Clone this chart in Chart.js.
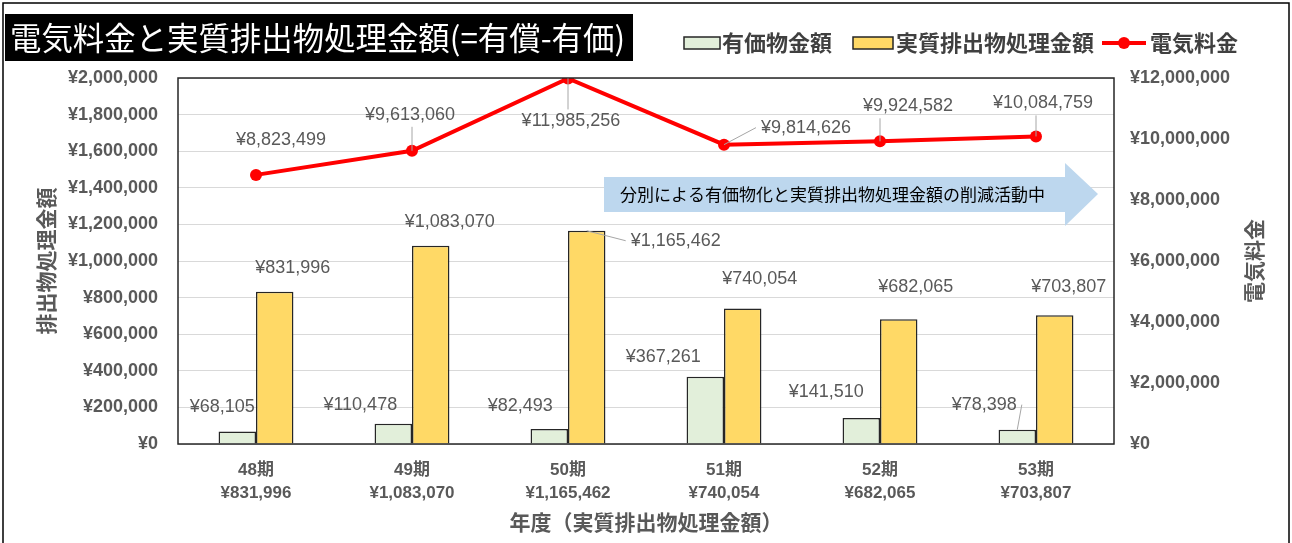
<!DOCTYPE html>
<html>
<head>
<meta charset="utf-8">
<script src="https://cdn.jsdelivr.net/npm/chart.js@4"></script>
<style>
  html, body { margin: 0; padding: 0; background: #fff; }
  #wrap { width: 1292px; height: 543px; }
</style>
</head>
<body>
<div id="wrap"><canvas id="chartCanvas" width="1292" height="543"></canvas></div>
<script>
// データ
const periods = ["48期", "49期", "50期", "51期", "52期", "53期"];
const valuables = [68105, 110478, 82493, 367261, 141510, 78398];          // 有価物金額
const disposal = [831996, 1083070, 1165462, 740054, 682065, 703807];     // 実質排出物処理金額
const electricity = [8823499, 9613060, 11985256, 9814626, 9924582, 10084759]; // 電気料金
const leftTicks = [0, 2000000, 200000];    // min, max, step
const rightTicks = [0, 12000000, 2000000];

const fmt = v => "¥" + v.toLocaleString("en-US");
const gray = "#595959";
const latin = "'Liberation Sans', 'Noto Sans CJK JP'";
const cjk = "'Noto Sans CJK JP', 'Liberation Sans'";

// ラベル位置 (要素からのずれ) と引き出し線
const labelPos = {
    0: [[-15, -25], [-33, -19], [-29, -23], [-42, -20], [-35, -26], [-33, -25, 1]],
    1: [[18, -24], [19, -24], [89, 10, 1], [17, -30], [17, -32], [14, -28]],
    2: [[25, -35], [-2, -36, 1], [3, 43, 1], [82, -17, 1], [28, -35, 1], [7, -33, 1]],
};

function drawLabel(ctx, text, x, y, lx, ly, leader) {
    ctx.font = "18px " + latin;
    const w = ctx.measureText(text).width;
    if (leader) {
        // 引き出し線: ラベルの一番近い縁から要素へ
        let ex = Math.max(lx - w / 2, Math.min(x, lx + w / 2));
        let ey = y < ly ? ly - 12 : ly + 12;
        if (Math.abs(x - lx) > w / 2) { ey = ly; ex = x < lx ? lx - w / 2 - 5 : lx + w / 2 + 5; }
        ctx.strokeStyle = "#a6a6a6";
        ctx.lineWidth = 1;
        ctx.beginPath();
        ctx.moveTo(ex, ey);
        ctx.lineTo(x, y);
        ctx.stroke();
    }
    ctx.fillStyle = gray;
    ctx.textAlign = "center";
    ctx.textBaseline = "middle";
    ctx.fillText(text, lx, ly);
}

function fitText(ctx, text, x, y, width) {
    const w = ctx.measureText(text).width;
    ctx.save();
    ctx.translate(x, y);
    ctx.scale(width / w, 1);
    ctx.fillText(text, 0, 0);
    ctx.restore();
}

const decor = {
    id: "decor",
    beforeDraw(chart) {
        const ctx = chart.ctx;
        const ca = chart.chartArea;
        ctx.save();
        ctx.fillStyle = "#fff";
        ctx.fillRect(0, 0, chart.width, chart.height);
        ctx.strokeStyle = "#000";
        ctx.lineWidth = 1.5;
        ctx.strokeRect(3, 3, chart.width - 6, chart.height + 20);

        // タイトル
        ctx.fillStyle = "#000";
        ctx.fillRect(5, 14, 628, 47);
        ctx.fillStyle = "#fff";
        ctx.font = "32px " + cjk;
        ctx.textAlign = "left";
        ctx.textBaseline = "middle";
        fitText(ctx, "電気料金と実質排出物処理金額(=有償-有価)", 10, 38, 615);

        // 凡例
        ctx.font = "bold 22px " + cjk;
        ctx.textBaseline = "middle";
        ctx.lineWidth = 1.5;
        ctx.strokeStyle = "#262626";
        ctx.fillStyle = "#E2EFDA";
        ctx.fillRect(684, 37, 36, 12);
        ctx.strokeRect(684, 37, 36, 12);
        ctx.fillStyle = "#404040";
        ctx.fillText("有価物金額", 722, 43);
        ctx.fillStyle = "#FFD966";
        ctx.fillRect(853, 37, 40, 12);
        ctx.strokeRect(853, 37, 40, 12);
        ctx.fillStyle = "#404040";
        ctx.fillText("実質排出物処理金額", 896, 43);
        ctx.strokeStyle = "#FF0000";
        ctx.lineWidth = 4;
        ctx.beginPath();
        ctx.moveTo(1102, 43);
        ctx.lineTo(1146, 43);
        ctx.stroke();
        ctx.fillStyle = "#FF0000";
        ctx.beginPath();
        ctx.arc(1124, 43, 6, 0, Math.PI * 2);
        ctx.fill();
        ctx.fillStyle = "#404040";
        ctx.fillText("電気料金", 1150, 43);

        // 軸タイトル
        const cy = (ca.top + ca.bottom) / 2;
        ctx.font = "bold 21px " + cjk;
        ctx.fillStyle = gray;
        ctx.textAlign = "center";
        ctx.save();
        ctx.translate(46, cy);
        ctx.rotate(-Math.PI / 2);
        ctx.fillText("排出物処理金額", 0, 0);
        ctx.restore();
        ctx.save();
        ctx.translate(1254, cy);
        ctx.rotate(-Math.PI / 2);
        ctx.fillText("電気料金", 0, 0);
        ctx.restore();
        ctx.fillText("年度（実質排出物処理金額）", (ca.left + ca.right) / 2, 522);
        ctx.restore();
    },
    beforeDatasetsDraw(chart) {
        // 矢印
        const ctx = chart.ctx;
        ctx.save();
        ctx.fillStyle = "#BDD7EE";
        ctx.beginPath();
        ctx.moveTo(604, 177);
        ctx.lineTo(1065, 177);
        ctx.lineTo(1065, 163);
        ctx.lineTo(1098, 194);
        ctx.lineTo(1065, 226);
        ctx.lineTo(1065, 212);
        ctx.lineTo(604, 212);
        ctx.closePath();
        ctx.fill();
        ctx.fillStyle = "#000";
        ctx.font = "17px " + cjk;
        ctx.textAlign = "left";
        ctx.textBaseline = "middle";
        ctx.fillText("分別による有価物化と実質排出物処理金額の削減活動中", 620, 195);
        ctx.restore();
    },
    afterDatasetsDraw(chart) {
        const ctx = chart.ctx;
        const ca = chart.chartArea;
        ctx.save();
        ctx.strokeStyle = "#262626";
        ctx.lineWidth = 1.5;
        ctx.strokeRect(ca.left, ca.top, ca.right - ca.left, ca.bottom - ca.top);
        chart.data.datasets.forEach((ds, di) => {
            const meta = chart.getDatasetMeta(di);
            meta.data.forEach((el, i) => {
                const p = labelPos[di][i];
                drawLabel(ctx, fmt(ds.data[i]), el.x, el.y, el.x + p[0], el.y + p[1], p[2]);
            });
        });
        ctx.restore();
    }
};

const canvas = document.getElementById("chartCanvas");

const chart = new Chart(canvas, {
    type: "bar",
    data: {
        labels: periods.map((p, i) => [p, fmt(disposal[i])]),
        datasets: [
            {
                label: "有価物金額",
                data: valuables,
                backgroundColor: "#E2EFDA",
                borderColor: "#262626",
                borderWidth: 1.5,
                yAxisID: "y",
                order: 2,
            },
            {
                label: "実質排出物処理金額",
                data: disposal,
                backgroundColor: "#FFD966",
                borderColor: "#262626",
                borderWidth: 1.5,
                yAxisID: "y",
                order: 2,
            },
            {
                type: "line",
                label: "電気料金",
                data: electricity,
                borderColor: "#FF0000",
                backgroundColor: "#FF0000",
                borderWidth: 4,
                pointRadius: 6,
                pointBackgroundColor: "#FF0000",
                pointBorderWidth: 0,
                yAxisID: "y1",
                order: 1,
            },
        ],
    },
    options: {
        responsive: false,
        animation: false,
        layout: { padding: { top: 78, left: 0, right: 0, bottom: 0 } },
        datasets: {
            bar: { categoryPercentage: 0.48, barPercentage: 1.0 },
        },
        plugins: {
            legend: { display: false },
            tooltip: { enabled: false },
        },
        scales: {
            x: {
                grid: { display: false, drawTicks: false },
                border: { display: false },
                ticks: {
                    color: gray,
                    padding: 14,
                    font: { family: latin, size: 17, weight: "bold", lineHeight: 1.4 },
                },
                afterFit(scale) { scale.height = 99; },
            },
            y: {
                position: "left",
                min: leftTicks[0],
                max: leftTicks[1],
                grid: { color: "#d9d9d9", drawTicks: false },
                border: { display: false },
                ticks: {
                    stepSize: leftTicks[2],
                    color: gray,
                    padding: 20,
                    font: { family: latin, size: 18, weight: "bold" },
                    callback: v => fmt(v),
                },
                afterFit(scale) { scale.width = 178; },
            },
            y1: {
                position: "right",
                min: rightTicks[0],
                max: rightTicks[1],
                grid: { drawOnChartArea: false, drawTicks: false },
                border: { display: false },
                ticks: {
                    stepSize: rightTicks[2],
                    color: gray,
                    padding: 16,
                    font: { family: latin, size: 18, weight: "bold" },
                    callback: v => fmt(v),
                },
                afterFit(scale) { scale.width = 178; },
            },
        },
    },
    plugins: [decor],
});
</script>
</body>
</html>
